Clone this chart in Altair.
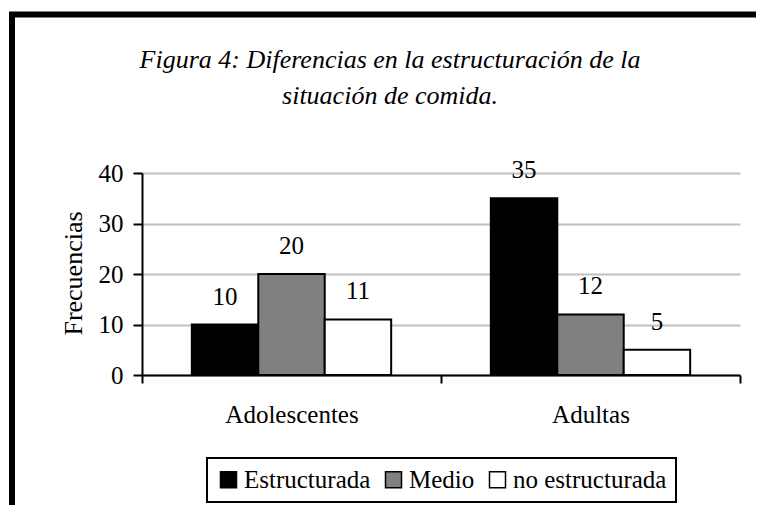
import altair as alt
import pandas as pd

groups = ["Adolescentes", "Adultas"]
series = ["Estructurada", "Medio", "no estructurada"]
values = {
    "Estructurada": [10, 35],
    "Medio": [20, 12],
    "no estructurada": [11, 5],
}
colors = ["#000000", "#808080", "#ffffff"]
title_lines = ["Figura 4: Diferencias en la estructuración de la", "situación de comida."]
y_ticks = [0, 10, 20, 30, 40]

rows = []
for s in series:
    for g, v in zip(groups, values[s]):
        rows.append({"grupo": g, "serie": s, "valor": v})
df = pd.DataFrame(rows)

FONT = "Liberation Serif, Times New Roman, serif"
FS = 25

x_enc = alt.X("grupo:N", sort=groups,
              scale=alt.Scale(paddingInner=0, paddingOuter=0),
              axis=alt.Axis(title=None, tickBand="extent", labelAngle=0,
                            labelFontSize=FS, labelFont=FONT, labelColor="black",
                            labelBaseline="top", labelPadding=19,
                            tickSize=8, tickWidth=2, tickColor="black",
                            domainColor="black", domainWidth=2, grid=False))
xoff_enc = alt.XOffset("serie:N", sort=series,
                       scale=alt.Scale(paddingInner=0, paddingOuter=0.75))
y_enc = alt.Y("valor:Q", scale=alt.Scale(domain=[0, 40], nice=False),
              axis=alt.Axis(title="Frecuencias", values=y_ticks,
                            titleFont=FONT, titleFontSize=26, titleFontWeight="normal",
                            titleColor="black", titleX=-61, titleY=100,
                            titleBaseline="alphabetic", titleAlign="center", titleAngle=-90,
                            labelFontSize=FS, labelFont=FONT, labelColor="black",
                            labelPadding=10, tickSize=9, tickWidth=2, tickColor="black",
                            domainColor="black", domainWidth=2,
                            gridColor="#c0c0c0", gridWidth=2))

bars = alt.Chart(df).mark_bar(stroke="black", strokeWidth=2).encode(
    x=x_enc, xOffset=xoff_enc, y=y_enc,
    fill=alt.Fill("serie:N", sort=series,
                  scale=alt.Scale(domain=series, range=colors),
                  legend=alt.Legend(title=None, orient="none", direction="horizontal",
                                    legendX=65, legendY=285,
                                    symbolType="square", symbolSize=256,
                                    symbolStrokeColor="black", symbolStrokeWidth=1.5,
                                    labelFont=FONT, labelFontSize=FS, labelColor="black",
                                    labelOffset=3, columnPadding=10, padding=9,
                                    strokeColor="black")),
)

labels = alt.Chart(df).mark_text(baseline="alphabetic", dy=-20, fontSize=FS,
                                 font=FONT, color="black").encode(
    x=alt.X("grupo:N", sort=groups), xOffset=alt.XOffset("serie:N", sort=series),
    y="valor:Q", text="valor:Q")

frame = alt.Chart(pd.DataFrame({"a": [0]})).mark_rect(
    fillOpacity=0, stroke="black", strokeWidth=6).encode(
    x=alt.value(-130), x2=alt.value(660), y=alt.value(-158.5), y2=alt.value(420))

chart = alt.layer(bars, labels, frame).properties(
    width=598, height=202,
    title=alt.Title(title_lines, font=FONT, fontSize=26, fontStyle="italic",
                    fontWeight="normal", color="black", anchor="middle",
                    frame="group", dx=-51, dy=123, offset=0, baseline="bottom",
                    lineHeight=36),
    autosize=alt.AutoSizeParams(type="none"),
    padding={"left": 134, "top": 165, "right": 16, "bottom": 130},
    background="white",
).configure_view(stroke=None).configure_legend(strokeWidth=2)

chart.save("out.html", embed_options={"renderer": "svg", "actions": False})
